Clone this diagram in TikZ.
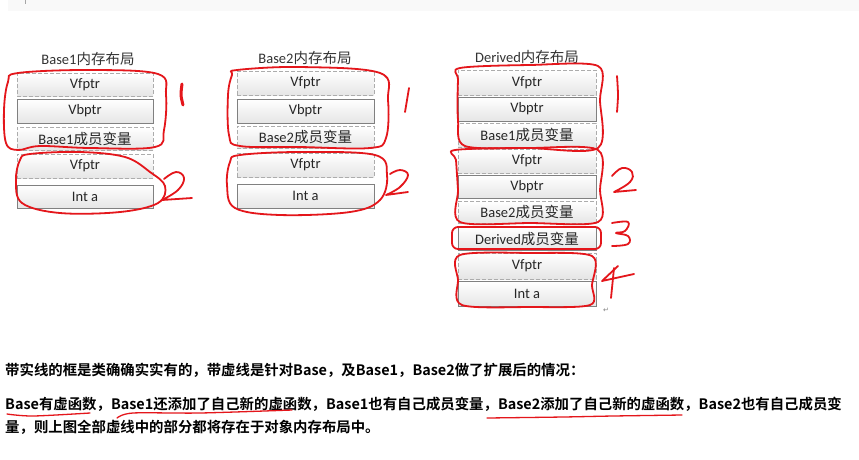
\documentclass[tikz,border=0pt]{standalone}
\usepackage{fontspec}
\setmainfont{Carlito}
\newfontfamily\cjk{Noto Sans CJK SC}
\newfontfamily\cjkb{Noto Sans CJK SC Bold}
\newfontfamily\djv{DejaVu Sans}
\usetikzlibrary{calc}
\definecolor{redpen}{HTML}{E4161B}
\definecolor{boxline}{HTML}{808080}
\tikzset{
  membox/.style={draw=boxline, line width=0.9pt, top color=white, bottom color=gray!20,
     minimum height=23pt, inner sep=0pt, font=\fontsize{14.5}{15}\selectfont, text=black!85},
  dashbox/.style={membox, dash pattern=on 4pt off 2pt, draw=gray!65},
  title/.style={font=\fontsize{14.5}{15}\selectfont, text=black!80, inner sep=0pt},
  pen/.style={draw=redpen, line width=1.8pt, line cap=round, line join=round},
  thinpen/.style={draw=redpen, line width=1.3pt, line cap=round},
  para/.style={font=\cjkb\fontsize{14.4}{16}\selectfont, anchor=base west, inner sep=0pt, text=black}
}
\begin{document}
\begin{tikzpicture}[x=1pt,y=-1pt]
\useasboundingbox (0,0) rectangle (859,459);
\fill[white] (0,0) rectangle (859,459);
\fill[gray!5] (8,0) rectangle (859,10.5);
\draw[gray!70, line width=0.5pt] (25,0) -- (25,4);

% Base1
\node[title] (t1) at (88,59) {Base1{\cjk 内存布局}};
\node[dashbox, minimum width=136pt, minimum height=23pt] (a1) at (85,84.5) {Vfptr};
\node[membox, minimum width=136pt, minimum height=24pt] (a2) at (85,111) {Vbptr};
\node[dashbox, minimum width=136pt, minimum height=23pt] (a3) at (85,138.5) {Base1{\cjk 成员变量}};
\node[dashbox, minimum width=136pt, minimum height=24pt] (a4) at (85,166) {Vfptr};
\node[membox, minimum width=136pt, minimum height=23pt] (a5) at (85,196.5) {Int a};

% Base2
\node[title] (t2) at (305,58) {Base2{\cjk 内存布局}};
\node[dashbox, minimum width=137pt, minimum height=24pt] (b1) at (305.5,83) {Vfptr};
\node[membox, minimum width=137pt, minimum height=24pt] (b2) at (305.5,111) {Vbptr};
\node[dashbox, minimum width=137pt, minimum height=22pt] (b3) at (305.5,137) {Base2{\cjk 成员变量}};
\node[dashbox, minimum width=137pt, minimum height=24pt] (b4) at (305.5,165) {Vfptr};
\node[membox, minimum width=137pt, minimum height=24pt] (b5) at (305.5,196) {Int a};

% Derived
\node[title] (t3) at (527,57) {Derived{\cjk 内存布局}};
\node[dashbox, minimum width=138pt, minimum height=25pt] (c1) at (527,82.5) {Vfptr};
\node[membox, minimum width=138pt, minimum height=24pt] (c2) at (527,109) {Vbptr};
\node[dashbox, minimum width=138pt, minimum height=24pt] (c3) at (527,135) {Base1{\cjk 成员变量}};
\node[dashbox, minimum width=138pt, minimum height=24pt] (c4) at (527,161) {Vfptr};
\node[membox, minimum width=138pt, minimum height=23pt] (c5) at (527,186.5) {Vbptr};
\node[dashbox, minimum width=138pt, minimum height=22pt] (c6) at (527,212) {Base2{\cjk 成员变量}};
\node[membox, minimum width=138pt, minimum height=23pt] (c7) at (527,238.5) {Derived{\cjk 成员变量}};
\node[dashbox, minimum width=138pt, minimum height=26pt] (c8) at (527,266) {Vfptr};
\node[membox, minimum width=138pt, minimum height=25pt] (c9) at (527,293.5) {Int a};
\node[font=\djv\fontsize{7}{8}\selectfont, text=gray, inner sep=0pt] (ret) at (606,310) {↵};

% red annotations, Base1
\draw[pen] plot[smooth cycle, tension=0.6] coordinates {(18,73) (90,70) (158,74) (166,95) (164,130) (155,147) (90,148) (40,146) (18,150) (6,143) (4,110) (8,82)};
\draw[pen] plot[smooth cycle, tension=0.6] coordinates {(30,154) (80,152) (125,157) (150,172) (165,186) (158,203) (120,212) (60,213) (22,203) (16,180) (20,160)};
\draw[pen, line width=3pt] plot[smooth] coordinates {(182,84) (181,95) (183,105)};
\draw[pen] plot[smooth, tension=0.7] coordinates {(164,179) (176,172) (184,178) (178,190) (162,200)} -- (192,198);

% red annotations, Base2
\draw[pen] plot[smooth cycle, tension=0.6] coordinates {(237,70) (300,67) (380,73) (388,100) (386,138) (370,148) (300,147) (240,146) (229,135) (228,95) (232,75)};
\draw[pen] plot[smooth cycle, tension=0.6] coordinates {(240,155) (300,152) (375,155) (387,175) (380,200) (350,212) (280,215) (235,208) (227,185) (230,162)};
\draw[pen] plot[smooth] coordinates {(409,88) (407,100) (405,112)};
\draw[pen] plot[smooth, tension=0.7] coordinates {(390,174) (400,170) (408,175) (400,187) (386,195)} -- (408,192);

% red annotations, Derived
\draw[pen] plot[smooth cycle, tension=0.5] coordinates {(460,68) (530,65) (598,66) (600,100) (598,148) (530,148) (465,146) (458,120) (458,80)};
\draw[pen] plot[smooth cycle, tension=0.5] coordinates {(455,150) (530,148) (598,150) (600,190) (598,222) (530,223) (460,222) (458,190) (456,160)};
\draw[pen, rounded corners=6pt] (452,227) rectangle (601,249);
\draw[pen] plot[smooth cycle, tension=0.5] coordinates {(460,255) (530,253) (592,256) (592,285) (590,305) (530,307) (462,305) (458,280)};
\draw[pen] plot[smooth] coordinates {(617,76) (618,95) (617,112)};
\draw[pen] plot[smooth, tension=0.7] coordinates {(612,176) (622,168) (632,172) (630,182) (614,192)} -- (636,190);
\draw[pen] plot[smooth, tension=0.7] coordinates {(612,223) (628,222) (625,231) (616,233) (628,236) (628,244) (612,246)};
\draw[pen] (618,266) -- (602,281) -- (634,274);
\draw[pen] (614,268) -- (611,298);

% text
\node[para] (p1) at (5,375) {带实线的框是类确确实实有的，带虚线是针对Base，及Base1，Base2做了扩展后的情况：};
\node[para] (p2) at (5,409) {Base有虚函数，Base1还添加了自己新的虚函数，Base1也有自己成员变量，Base2添加了自己新的虚函数，Base2也有自己成员变};
\node[para] (p3) at (5,432) {量，则上图全部虚线中的部分都将存在于对象内存布局中。};

\draw[thinpen] plot[smooth] coordinates {(7,414) (33,416) (90,413)};
\draw[thinpen] plot[smooth] coordinates {(117,418) (133,413) (200,413) (292,410)};
\draw[thinpen] plot[smooth] coordinates {(487,418) (563,417) (613,416) (682,415)};
\end{tikzpicture}
\end{document}
